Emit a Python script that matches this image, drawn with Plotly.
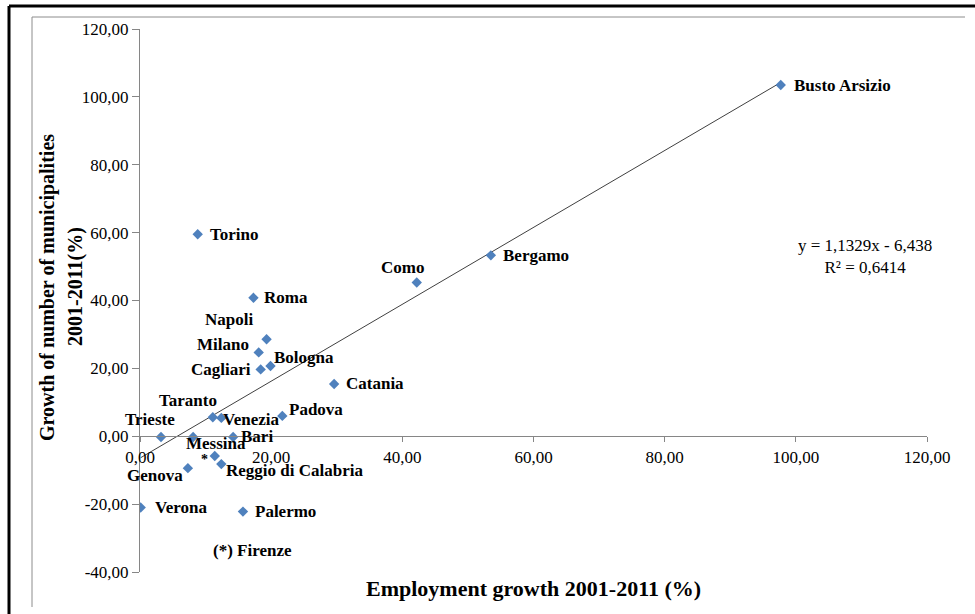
import plotly.graph_objects as go

# ---- data ----
cities = ["Busto Arsizio", "Bergamo", "Como", "Torino", "Roma", "Napoli", "Milano",
          "Bologna", "Cagliari", "Catania", "Padova", "Taranto", "Venezia", "Trieste",
          "", "Bari", "Messina", "Reggio di Calabria", "Genova", "Verona", "Palermo"]
employment_growth = [97.7, 53.5, 42.2, 8.8, 17.3, 19.3, 18.1,
                     19.9, 18.4, 29.6, 21.7, 11.1, 12.4, 3.2,
                     8.1, 14.2, 11.4, 12.4, 7.3, 0.1, 15.7]
municipal_growth = [103.5, 53.3, 45.3, 59.5, 40.8, 28.6, 24.7,
                    20.7, 19.7, 15.4, 6.0, 5.6, 5.4, -0.2,
                    -0.2, -0.2, -5.8, -8.2, -9.4, -21.0, -22.2]
firenze_x, firenze_y = 9.9, -6.9          # plotted as "*"
firenze_note_x, firenze_note_y = 17.2, -33.8

slope, intercept, r2 = 1.1329, -6.438, 0.6414

x_ticks = [0, 20, 40, 60, 80, 100, 120]
x_tick_labels = ["0,00", "20,00", "40,00", "60,00", "80,00", "100,00", "120,00"]
y_ticks = [-40, -20, 0, 20, 40, 60, 80, 100, 120]
y_tick_labels = ["-40,00", "-20,00", "0,00", "20,00", "40,00", "60,00", "80,00", "100,00", "120,00"]

# label placement (style): xanchor, xshift, yshift
label_style = {
    "Busto Arsizio": ("left", 11, 0),
    "Bergamo": ("left", 10, 0),
    "Como": ("center", -14, 15),
    "Torino": ("left", 10, 0),
    "Roma": ("left", 9, 0),
    "Napoli": ("right", -12, 20),
    "Milano": ("right", -8, 8),
    "Bologna": ("left", 1, 9),
    "Cagliari": ("right", -8, 0),
    "Catania": ("left", 10, 0),
    "Padova": ("left", 5, 6),
    "Taranto": ("right", 6, 17),
    "Venezia": ("left", 0, -2),
    "Trieste": ("center", -11, 17),
    "Bari": ("left", 6, 0),
    "Messina": ("center", 1, 12),
    "Reggio di Calabria": ("left", 3, -6),
    "Genova": ("right", -3, -7),
    "Verona": ("left", 12, 0),
    "Palermo": ("left", 10, 0),
}

SERIF = "Liberation Serif, Times New Roman, serif"
BLUE = "#4F81BD"
AXIS = "#868686"
LABEL_SIZE = 17

fig = go.Figure()

# trend line
x0, x1 = min(employment_growth), max(employment_growth)
fig.add_trace(go.Scatter(
    x=[x0, x1], y=[slope * x0 + intercept, slope * x1 + intercept],
    mode="lines", line=dict(color="#404040", width=1), hoverinfo="skip", showlegend=False))

fig.add_trace(go.Scatter(
    x=employment_growth, y=municipal_growth, mode="markers",
    marker=dict(symbol="diamond", color=BLUE, size=8),
    text=cities, showlegend=False))

annotations = []
for name, xv, yv in zip(cities, employment_growth, municipal_growth):
    if not name:
        continue
    xa, xs, ys = label_style[name]
    annotations.append(dict(x=xv, y=yv, xref="x", yref="y", text="<b>%s</b>" % name,
                            showarrow=False, xanchor=xa, yanchor="middle",
                            xshift=xs, yshift=ys,
                            font=dict(family=SERIF, size=LABEL_SIZE, color="black")))

annotations.append(dict(x=firenze_x, y=firenze_y, xref="x", yref="y", text="<b>*</b>",
                        showarrow=False, font=dict(family=SERIF, size=14, color="black")))
annotations.append(dict(x=firenze_note_x, y=firenze_note_y, xref="x", yref="y",
                        text="<b>(*) Firenze</b>", showarrow=False,
                        font=dict(family=SERIF, size=LABEL_SIZE, color="black")))

eq = "y = %sx - %s<br>R² = %s" % (str(slope).replace(".", ","),
                                  str(-intercept).replace(".", ","),
                                  str(r2).replace(".", ","))
annotations.append(dict(x=110.5, y=53, xref="x", yref="y", text=eq, showarrow=False,
                        xanchor="center", yanchor="middle",
                        align="center", font=dict(family=SERIF, size=17, color="black")))

# axis titles
PW, PH, L, T = 787, 543, 140, 29
def px(xp):
    return (xp - L) / PW
def py(yp):
    return (T + PH - yp) / PH

annotations.append(dict(x=px(533), y=py(588), xref="paper", yref="paper",
                        xanchor="center", yanchor="middle",
                        text="<b>Employment growth 2001-2011 (%)</b>", showarrow=False,
                        font=dict(family=SERIF, size=22, color="black")))
annotations.append(dict(x=px(47), y=py(288), xref="paper", yref="paper",
                        xanchor="center", yanchor="middle",
                        text="<b>Growth of number of municipalities</b>", showarrow=False,
                        textangle=-90, font=dict(family=SERIF, size=20, color="black")))
annotations.append(dict(x=px(75), y=py(287), xref="paper", yref="paper",
                        xanchor="center", yanchor="middle",
                        text="<b>2001-2011(%)</b>", showarrow=False,
                        textangle=-90, font=dict(family=SERIF, size=20, color="black")))

shapes = [
    # black outer frame (top/left)
    dict(type="line", xref="paper", yref="paper", x0=px(9), x1=px(975), y0=py(6), y1=py(6),
         line=dict(color="black", width=3)),
    dict(type="line", xref="paper", yref="paper", x0=px(9), x1=px(9), y0=py(6), y1=py(614),
         line=dict(color="black", width=3)),
    # gray chart frame
    dict(type="line", xref="paper", yref="paper", x0=px(32), x1=px(965), y0=py(17), y1=py(17),
         line=dict(color="#8c8c8c", width=1)),
    dict(type="line", xref="paper", yref="paper", x0=px(32), x1=px(32), y0=py(17), y1=py(607),
         line=dict(color="#8c8c8c", width=1)),
]

fig.update_layout(
    width=975, height=614,
    margin=dict(l=L, r=975 - L - PW, t=T, b=614 - T - PH),
    paper_bgcolor="white", plot_bgcolor="white",
    annotations=annotations, shapes=shapes,
    xaxis=dict(range=[0, 120], tickvals=x_ticks, ticktext=x_tick_labels,
               showgrid=False, zeroline=False, showline=True, linecolor=AXIS, linewidth=1,
               ticks="outside", ticklen=5, tickcolor=AXIS,
               anchor="free", position=0.25,
               tickfont=dict(family=SERIF, size=17, color="black")),
    yaxis=dict(range=[-40, 120], tickvals=y_ticks, ticktext=y_tick_labels,
               showgrid=False, zeroline=False, showline=True, linecolor=AXIS, linewidth=1,
               ticks="outside", ticklen=7, tickcolor=AXIS,
               tickfont=dict(family=SERIF, size=17, color="black")),
    showlegend=False,
)

fig.write_html("out.html")
